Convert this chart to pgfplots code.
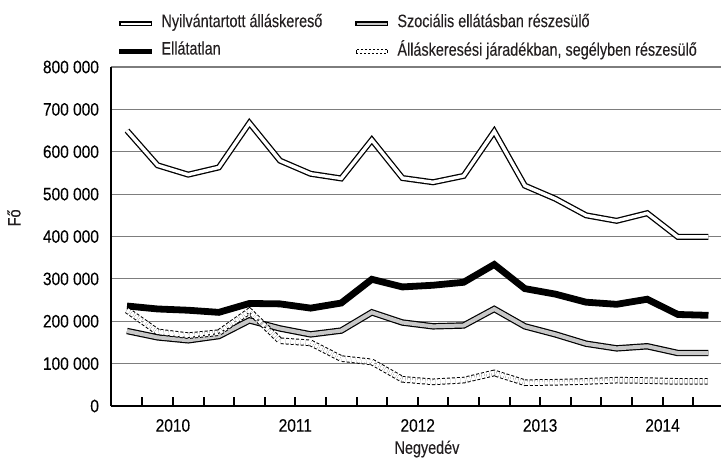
\documentclass[border=0pt]{standalone}
\usepackage{fontspec}
\setmainfont{Liberation Sans}[FakeStretch=0.8, FakeBold=0.15]
\newfontfamily\tickfont{Liberation Sans}[FakeStretch=0.86, FakeBold=0.15]
\usepackage{pgfplots}
\pgfplotsset{compat=1.18}
\definecolor{gridc}{RGB}{125,125,125}
\definecolor{szoc}{RGB}{200,200,200}
\definecolor{txt}{RGB}{35,31,32}
\newcommand\legrect[3]{% fill colour, half height, dashed?
  \pgfsetlinewidth{0.65pt}\pgfsetstrokecolor{black}\pgfsetfillcolor{#1}%
  #3%
  \pgfpathrectangle{\pgfpoint{0.3pt}{-#2}}{\pgfpoint{15.9pt}{2\dimexpr#2\relax}}%
  \pgfusepath{fill,stroke}}
\begin{document}
\begin{tikzpicture}
\useasboundingbox (-55.5pt,-27.5pt) rectangle (305pt,203pt);
\begin{axis}[
  at={(0pt,0pt)}, anchor=south west,
  scale only axis, width=305pt, height=169.5pt,
  xmin=-0.523, xmax=19.41, ymin=0, ymax=800000,
  scaled y ticks=false,
  axis lines*=left,
  axis line style={line width=1pt, black},
  font=\fontsize{9}{10}\selectfont\color{txt},
  /pgf/number format/assume math mode=true,
  xtick={0.5,1.5,...,18.5}, xticklabels={},
  major tick length=4.5pt, tick align=inside,
  x tick style={line width=1pt, black},
  extra x ticks={1.5,5.5,9.5,13.5,17.5},
  extra x tick labels={2010,2011,2012,2013,2014},
  extra x tick style={major tick length=0pt, grid=none,
     xticklabel style={yshift=-3pt, font=\fontsize{9}{10}\tickfont}},
  ytick={0,100000,...,800000},
  yticklabels={0,100 000,200 000,300 000,400 000,500 000,600 000,700 000,800 000},
  y tick style={draw=none},
  yticklabel style={xshift=-2.5pt, font=\fontsize{9}{10}\tickfont},
  ymajorgrids, grid style={gridc, line width=0.55pt},
  xlabel={Negyedév},
  xlabel style={at={(axis description cs:0.518,0)}, anchor=center, yshift=-21.5pt},
  ylabel={Fő},
  ylabel style={at={(axis description cs:-0.159,0.555)}, anchor=center},
  legend columns=2,
  legend cell align=left,
  legend style={at={(axis description cs:0.0131,1.158)}, anchor=north west,
     draw=none, fill=none, inner sep=0pt, row sep=5pt,
     nodes={inner sep=0pt, text=txt},
     /tikz/every odd column/.append style={column sep=4.5pt},
     /tikz/every even column/.append style={column sep=16.5pt}},
  every axis plot/.append style={line join=miter, line cap=butt},
]
\addplot[draw=black, line width=0.65pt, double=white, double distance=1.7pt,
  legend image code/.code={\legrect{white}{1.8pt}{}}] coordinates {
(0,650000) (1,568000) (2,546000) (3,563000) (4,668000) (5,579000) (6,548000) (7,537000)
(8,628000) (9,538000) (10,528000) (11,543000) (12,648000) (13,520000) (14,489000) (15,450000)
(16,437000) (17,455000) (18,399000) (19,399000)};
\addlegendentry{Nyilvántartott álláskereső}
\addplot[draw=black, line width=0.6pt, double=szoc, double distance=2pt,
  legend image code/.code={\legrect{szoc}{1.9pt}{}}] coordinates {
(0,177000) (1,162000) (2,155000) (3,165000) (4,202000) (5,183000) (6,169000) (7,178000)
(8,221000) (9,197000) (10,188000) (11,190000) (12,229000) (13,188000) (14,169000) (15,147000)
(16,136000) (17,141000) (18,125000) (19,125000)};
\addlegendentry{Szociális ellátásban részesülő}
\addplot[draw=black, line width=3.4pt,
  legend image code/.code={\legrect{black}{1.9pt}{}}] coordinates {
(0,236000) (1,229000) (2,226000) (3,221000) (4,242000) (5,241000) (6,231000) (7,243000)
(8,299000) (9,281000) (10,285000) (11,292000) (12,334000) (13,277000) (14,264000) (15,245000)
(16,240000) (17,252000) (18,216000) (19,214000)};
\addlegendentry{Ellátatlan}
\addplot[draw=black, line width=0.5pt, dash pattern=on 1.5pt off 1pt, double=white, double distance=2.3pt,
  legend image code/.code={\legrect{white}{1.8pt}{\pgfsetlinewidth{0.5pt}\pgfsetdash{{1.2pt}{0.8pt}}{0pt}}}] coordinates {
(0,226000) (1,175000) (2,166000) (3,173000) (4,224000) (5,154000) (6,149000) (7,112000)
(8,104000) (9,63000) (10,57000) (11,61000) (12,78000) (13,55000) (14,56000) (15,58000)
(16,61000) (17,60000) (18,58000) (19,58000)};
\addlegendentry{Álláskeresési járadékban, segélyben részesülő}
\end{axis}
\end{tikzpicture}
\end{document}
